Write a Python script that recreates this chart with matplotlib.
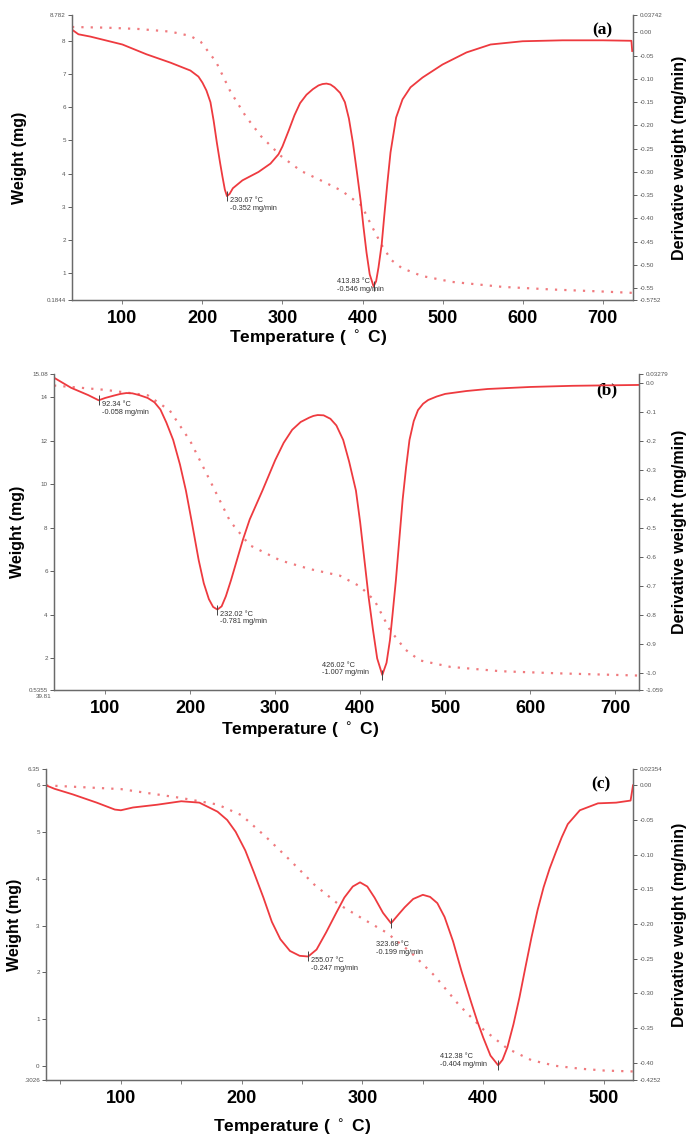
import matplotlib

matplotlib.use("Agg")

import matplotlib.pyplot as plt
from matplotlib.ticker import FixedLocator, FixedFormatter

plt.rcParams["font.family"] = ["Liberation Sans", "DejaVu Sans"]

# ---------------- panel (a) ----------------
temp_a_dtg = [37, 45, 60, 100, 130, 160, 185, 195, 200, 205, 210, 214, 218, 222, 225,
              228, 230.67, 234, 238, 250, 270, 285, 295, 300, 308, 315, 322, 330, 338,
              345, 350, 355, 360, 365, 372, 378, 383, 388, 393, 398, 401, 405, 409,
              413.83, 417, 420, 424, 427, 431, 435, 442, 450, 460, 475, 500, 530, 560,
              600, 650, 700, 736, 737]
dtg_a = [0.006, -0.004, -0.009, -0.026, -0.047, -0.065, -0.082, -0.095, -0.108, -0.125,
         -0.150, -0.190, -0.237, -0.280, -0.310, -0.338, -0.352, -0.347, -0.335, -0.318,
         -0.300, -0.282, -0.262, -0.245, -0.210, -0.178, -0.152, -0.134, -0.122, -0.114,
         -0.111, -0.110, -0.112, -0.118, -0.130, -0.150, -0.185, -0.237, -0.300, -0.366,
         -0.415, -0.473, -0.520, -0.546, -0.535, -0.505, -0.455, -0.398, -0.325, -0.258,
         -0.183, -0.144, -0.118, -0.097, -0.069, -0.043, -0.026, -0.019, -0.017, -0.017,
         -0.018, -0.040]
temp_a_tg = [37, 80, 120, 160, 185, 198, 217, 235, 254, 273, 298, 323, 349, 374, 399,
             411, 424, 436, 449, 474, 512, 575, 638, 700, 737]
tg_a = [8.42, 8.40, 8.36, 8.28, 8.15, 7.97, 7.37, 6.47, 5.73, 5.13, 4.53, 4.08, 3.78,
        3.48, 3.03, 2.44, 1.84, 1.39, 1.15, 0.91, 0.73, 0.58, 0.50, 0.44, 0.40]
peaks_a = [(230.67, -0.352), (413.83, -0.546)]

# ---------------- panel (b) ----------------
temp_b_dtg = [39.81, 60, 80, 92.34, 100, 110, 118, 125, 132, 140, 150, 158, 165, 172,
              180, 188, 195, 202, 210, 216, 222, 227, 232.02, 237, 242, 248, 255, 262,
              270, 285, 300, 310, 320, 330, 340, 345, 350, 357, 365, 372, 380, 387,
              395, 400, 405, 410, 415, 420, 426.02, 431, 435, 438, 442, 446, 450, 454,
              458, 463, 468, 474, 480, 490, 500, 525, 550, 600, 650, 728]
dtg_b = [0.020, -0.015, -0.040, -0.058, -0.050, -0.042, -0.036, -0.033, -0.034, -0.040,
         -0.050, -0.065, -0.090, -0.135, -0.195, -0.280, -0.370, -0.480, -0.610, -0.690,
         -0.745, -0.772, -0.781, -0.770, -0.735, -0.680, -0.610, -0.540, -0.470, -0.370,
         -0.265, -0.205, -0.160, -0.133, -0.118, -0.112, -0.109, -0.110, -0.122, -0.145,
         -0.195, -0.270, -0.370, -0.480, -0.610, -0.740, -0.850, -0.950, -1.007, -0.965,
         -0.887, -0.800, -0.680, -0.540, -0.400, -0.290, -0.195, -0.130, -0.092, -0.070,
         -0.057, -0.045, -0.036, -0.026, -0.019, -0.012, -0.008, -0.005]
temp_b_tg = [39.81, 100, 150, 176, 200, 223, 247, 270, 306, 341, 376, 400, 417, 435,
             453, 470, 506, 565, 635, 728]
tg_b = [14.55, 14.35, 14.10, 13.40, 12.00, 10.20, 8.30, 7.20, 6.50, 6.10, 5.80, 5.30,
        4.65, 3.30, 2.40, 1.90, 1.60, 1.40, 1.30, 1.20]
peaks_b = [(92.34, -0.058), (232.02, -0.781), (426.02, -1.007)]

# ---------------- panel (c) ----------------
temp_c_dtg = [38, 45, 60, 80, 95, 100, 110, 130, 150, 165, 180, 188, 195, 203, 210,
              218, 225, 232, 240, 248, 255.07, 262, 270, 278, 285, 292, 298, 304, 310,
              317, 323.68, 330, 335, 342, 350, 356, 362, 368, 375, 382, 390, 395, 400,
              406, 412.38, 416, 420, 425, 430, 435, 440, 445, 450, 455, 460, 465, 470,
              480, 495, 510, 522, 524]
dtg_c = [0.000, -0.005, -0.013, -0.025, -0.035, -0.036, -0.032, -0.028, -0.023, -0.025,
         -0.038, -0.050, -0.067, -0.094, -0.125, -0.162, -0.197, -0.222, -0.239, -0.246,
         -0.247, -0.237, -0.212, -0.185, -0.162, -0.146, -0.140, -0.146, -0.162, -0.184,
         -0.199, -0.186, -0.176, -0.164, -0.158, -0.161, -0.170, -0.190, -0.225, -0.268,
         -0.313, -0.340, -0.364, -0.390, -0.404, -0.396, -0.378, -0.345, -0.306, -0.262,
         -0.219, -0.180, -0.147, -0.120, -0.097, -0.075, -0.056, -0.036, -0.026, -0.025,
         -0.022, 0.000]
temp_c_tg = [38, 100, 150, 180, 200, 220, 240, 260, 280, 300, 320, 340, 360, 380, 400,
             420, 440, 460, 480, 500, 524]
tg_c = [6.00, 5.92, 5.73, 5.59, 5.36, 4.90, 4.40, 3.88, 3.46, 3.15, 2.85, 2.43, 1.92,
        1.30, 0.78, 0.37, 0.12, 0.00, -0.06, -0.10, -0.12]
peaks_c = [(255.07, -0.247), (323.68, -0.199), (412.38, -0.404)]

# axis ticks / labels
wticks_a = [0.1844, 1, 2, 3, 4, 5, 6, 7, 8, 8.782]
wlabels_a = ["0.1844", "1", "2", "3", "4", "5", "6", "7", "8", "8.782"]
dticks_a = [-0.5752, -0.55, -0.50, -0.45, -0.40, -0.35, -0.30, -0.25, -0.20, -0.15,
            -0.10, -0.05, 0.00, 0.03742]
dlabels_a = ["-0.5752", "-0.55", "-0.50", "-0.45", "-0.40", "-0.35", "-0.30", "-0.25",
             "-0.20", "-0.15", "-0.10", "-0.05", "0.00", "0.03742"]

wticks_b = [0.5355, 2, 4, 6, 8, 10, 12, 14, 15.08]
wlabels_b = ["0.5355", "2", "4", "6", "8", "10", "12", "14", "15.08"]
dticks_b = [-1.059, -1.0, -0.9, -0.8, -0.7, -0.6, -0.5, -0.4, -0.3, -0.2, -0.1, 0.0, 0.03279]
dlabels_b = ["-1.059", "-1.0", "-0.9", "-0.8", "-0.7", "-0.6", "-0.5", "-0.4", "-0.3",
             "-0.2", "-0.1", "0.0", "0.03279"]

wticks_c = [-0.3026, 0, 1, 2, 3, 4, 5, 6, 6.35]
wlabels_c = [".3026", "0", "1", "2", "3", "4", "5", "6", "6.35"]
dticks_c = [-0.4252, -0.40, -0.35, -0.30, -0.25, -0.20, -0.15, -0.10, -0.05, 0.00, 0.02354]
dlabels_c = ["-0.4252", "-0.40", "-0.35", "-0.30", "-0.25", "-0.20", "-0.15", "-0.10",
             "-0.05", "0.00", "0.02354"]

RED = "#ee3a3f"
RED_DOT = "#f07a7e"
GREY = "#6a6a6a"


def panel(fig, rect, t_d, d, t_w, w, xlim, wlim, dlim, wt, wl, dt, dl, xt, xminor,
          tag, peaks, offsets, xlab_y, ylab_x):
    ax = fig.add_axes(rect)
    ax2 = ax.twinx()
    ax.plot(t_w, w, color=RED_DOT, lw=1.6, ls=(0, (1, 3.2)))
    ax2.plot(t_d, d, color=RED, lw=1.3)
    ax.set_xlim(*xlim)
    ax.set_ylim(*wlim)
    ax2.set_ylim(*dlim)

    for a in (ax, ax2):
        a.spines["top"].set_visible(False)
        for s in ("left", "right", "bottom"):
            a.spines[s].set_color(GREY)
            a.spines[s].set_linewidth(0.9)

    ax.yaxis.set_major_locator(FixedLocator(wt))
    ax.yaxis.set_major_formatter(FixedFormatter(wl))
    ax2.yaxis.set_major_locator(FixedLocator(dt))
    ax2.yaxis.set_major_formatter(FixedFormatter(dl))
    ax.tick_params(axis="y", labelsize=4.5, colors="#444444", length=3, width=0.6, pad=1.5)
    ax2.tick_params(axis="y", labelsize=4.5, colors="#444444", length=3, width=0.6, pad=1.5)
    for lab in ax.get_yticklabels() + ax2.get_yticklabels():
        lab.set_color("#555555")

    ax.set_xticks(xt)
    ax.set_xticklabels([str(v) for v in xt], fontsize=13, fontweight="bold")
    if xminor:
        ax.set_xticks(xminor, minor=True)
        ax.tick_params(axis="x", which="minor", length=3, width=0.6, color=GREY)
    ax.tick_params(axis="x", length=3, width=0.6, color=GREY, pad=4)

    ax.text(0.945, 0.975, tag, transform=ax.transAxes, ha="center", va="top",
            fontsize=12.5, fontweight="bold", family=["Liberation Serif", "DejaVu Serif"])

    for (tx, dy), (ox, oy) in zip(peaks, offsets):
        ax2.plot([tx], [dy], marker="|", ms=7, mew=0.7, color="#444444")
        ax2.annotate(f"{tx:.2f} \u00b0C\n{dy:.3f} mg/min", xy=(tx, dy),
                     xytext=(ox, oy), textcoords="offset pixels",
                     fontsize=5.3, color="#333333", ha="left", va="top",
                     linespacing=1.1)

    xc = rect[0] + rect[2] * 0.42
    fig.text(xc, xlab_y, "Temperature ( $^\\circ$ C)", ha="center", va="center",
             fontsize=12.5, fontweight="bold")
    yc = rect[1] + rect[3] * 0.5
    fig.text(ylab_x, yc, "Weight (mg)", rotation=90, ha="center", va="center",
             fontsize=11.5, fontweight="bold")
    fig.text(0.986, yc, "Derivative weight (mg/min)", rotation=90, ha="center",
             va="center", fontsize=11.5, fontweight="bold")
    return ax, ax2


fig = plt.figure(figsize=(6.89, 11.42), dpi=100)
W, H = 689.0, 1142.0


def rect_px(l, t, r, b):
    return [l / W, 1 - b / H, (r - l) / W, (b - t) / H]


panel(fig, rect_px(72, 15, 633, 300), temp_a_dtg, dtg_a, temp_a_tg, tg_a,
      (37, 738), (0.1844, 8.782), (-0.5752, 0.03742), wticks_a, wlabels_a,
      dticks_a, dlabels_a, [100, 200, 300, 400, 500, 600, 700], None, "(a)",
      peaks_a, [(3, -1), (-37, 8)], 1 - 338 / H, 20 / W)

panel(fig, rect_px(54, 374, 639, 690), temp_b_dtg, dtg_b, temp_b_tg, tg_b,
      (39.81, 728), (0.5355, 15.08), (-1.059, 0.03279), wticks_b, wlabels_b,
      dticks_b, dlabels_b, [100, 200, 300, 400, 500, 600, 700], None, "(b)",
      peaks_b, [(3, -1), (3, -1), (-60, 13)], 1 - 730 / H, 18 / W)
fig.text(44 / W, 1 - 697 / H, "39.81", fontsize=4.5, color="#555555", ha="center",
         va="center")

panel(fig, rect_px(46, 769, 633, 1080), temp_c_dtg, dtg_c, temp_c_tg, tg_c,
      (38, 524), (-0.3026, 6.35), (-0.4252, 0.02354), wticks_c, wlabels_c,
      dticks_c, dlabels_c, [100, 200, 300, 400, 500],
      [50, 150, 250, 350, 450], "(c)", peaks_c, [(3, -1), (-15, -18), (-58, 12)],
      1 - 1127 / H, 15 / W)

fig.savefig("out.png", dpi=100)
